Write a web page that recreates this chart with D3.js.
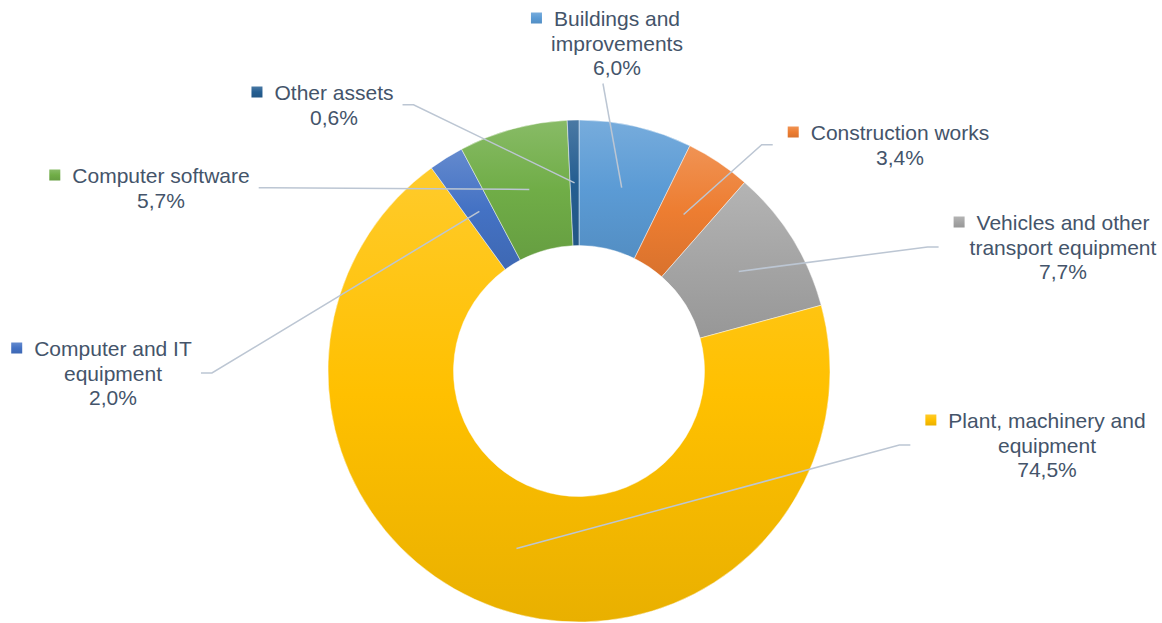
<!DOCTYPE html>
<html>
<head>
<meta charset="utf-8">
<script src="https://cdn.jsdelivr.net/npm/d3@7/dist/d3.min.js"></script>
<style>
  body { margin: 0; background: #fff; }
</style>
</head>
<body>
<div id="chart"></div>
<script>
// Categories in drawing order (clockwise from 12 o'clock)
const categories = [
  'Buildings and improvements',
  'Construction works',
  'Vehicles and other transport equipment',
  'Plant, machinery and equipment',
  'Computer and IT equipment',
  'Computer software',
  'Other assets'
];
// Slice sizes as drawn in the picture (share of the ring, %)
const sliceValues = [7.28, 4.19, 9.31, 69.22, 2.25, 7.0, 0.75];
// Percent texts printed in the labels
const labelPercents = ['6,0%', '3,4%', '7,7%', '74,5%', '2,0%', '5,7%', '0,6%'];
// Label text broken into lines as in the picture
const labelLines = [
  ['Buildings and', 'improvements'],
  ['Construction works'],
  ['Vehicles and other', 'transport equipment'],
  ['Plant, machinery and', 'equipment'],
  ['Computer and IT', 'equipment'],
  ['Computer software'],
  ['Other assets']
];
const colors = ['#5B9BD5', '#ED7D31', '#A5A5A5', '#FFC000', '#4472C4', '#70AD47', '#255E91'];

// Label placement (layout only): text centre x, first baseline y, side the leader leaves from
const labelLayout = [
  { x: 617, y: 26, side: 'bottom' },
  { x: 900, y: 140, side: 'right' },
  { x: 1063, y: 230, side: 'right' },
  { x: 1047, y: 428, side: 'right' },
  { x: 113, y: 356, side: 'left' },
  { x: 161, y: 183, side: 'left' },
  { x: 334, y: 100, side: 'left' }
];

const width = 1162, height = 623;
const cx = 579, cy = 371;
const outerR = 251, innerR = 125.5;
const fontSize = 21, lineH = 24.5;
const textColor = '#44546A';
const lineColor = '#BCC6D3';

const svg = d3.select('#chart').append('svg')
  .attr('width', width).attr('height', height)
  .attr('viewBox', `0 0 ${width} ${height}`);

const defs = svg.append('defs');
colors.forEach((c, i) => {
  const grad = defs.append('linearGradient')
    .attr('id', `grad-${i}`).attr('x1', 0).attr('y1', 0).attr('x2', 0).attr('y2', 1);
  grad.append('stop').attr('offset', '0%').attr('stop-color', d3.interpolateRgb(c, '#fff')(0.17));
  grad.append('stop').attr('offset', '50%').attr('stop-color', c);
  grad.append('stop').attr('offset', '100%').attr('stop-color', d3.color(c).darker(0.25).formatHex());
});

const pie = d3.pie().sort(null).value(d => d);
const arcs = pie(sliceValues);
const arc = d3.arc().innerRadius(innerR).outerRadius(outerR);

const g = svg.append('g').attr('transform', `translate(${cx},${cy})`);

g.selectAll('path.slice')
  .data(arcs)
  .join('path')
  .attr('class', 'slice')
  .attr('d', arc)
  .attr('fill', (d, i) => `url(#grad-${i})`)
  .attr('stroke', '#fff')
  .attr('stroke-opacity', 0.6)
  .attr('stroke-width', 0.75);

// Labels
const labelsG = svg.append('g').attr('font-family', '"Liberation Sans", Arial, sans-serif')
  .attr('font-size', fontSize).attr('fill', textColor);

const leaderG = svg.insert('g', 'g + g').attr('fill', 'none');

categories.forEach((name, i) => {
  const lay = labelLayout[i];
  const lines = labelLines[i].concat([labelPercents[i]]);
  const lg = labelsG.append('g');
  const text = lg.append('text').attr('text-anchor', 'middle');
  lines.forEach((ln, k) => {
    text.append('tspan').attr('x', lay.x).attr('y', lay.y + k * lineH).text(ln);
  });
  const firstW = text.select('tspan').node().getComputedTextLength();
  const mSize = 11;
  const mx = lay.x - firstW / 2 - 12 - mSize;
  lg.append('rect')
    .attr('x', mx).attr('y', lay.y - 2.5 - mSize)
    .attr('width', mSize).attr('height', mSize)
    .attr('fill', `url(#grad-${i})`);

  const tb = text.node().getBBox();
  const gb = lg.node().getBBox();
  const midY = tb.y + tb.height / 2;
  const [ax, ay] = arc.centroid(arcs[i]);
  const anchor = [cx + ax, cy + ay];
  let pts;
  if (lay.side === 'right') {
    const ex = mx - 15;
    pts = [anchor, [ex - 11, midY], [ex, midY]];
  } else if (lay.side === 'left') {
    const ex = tb.x + tb.width + 9;
    pts = [anchor, [ex + 11, midY], [ex, midY]];
  } else {
    pts = [anchor, [gb.x + gb.width / 2 - 4, tb.y + tb.height + 4.5]];
  }
  leaderG.append('path')
    .attr('d', d3.line()(pts))
    .attr('stroke', lineColor)
    .attr('stroke-width', 1.5);
});

// keep leader lines above the ring but below the labels
svg.node().appendChild(leaderG.node());
svg.node().appendChild(labelsG.node());
</script>
</body>
</html>
